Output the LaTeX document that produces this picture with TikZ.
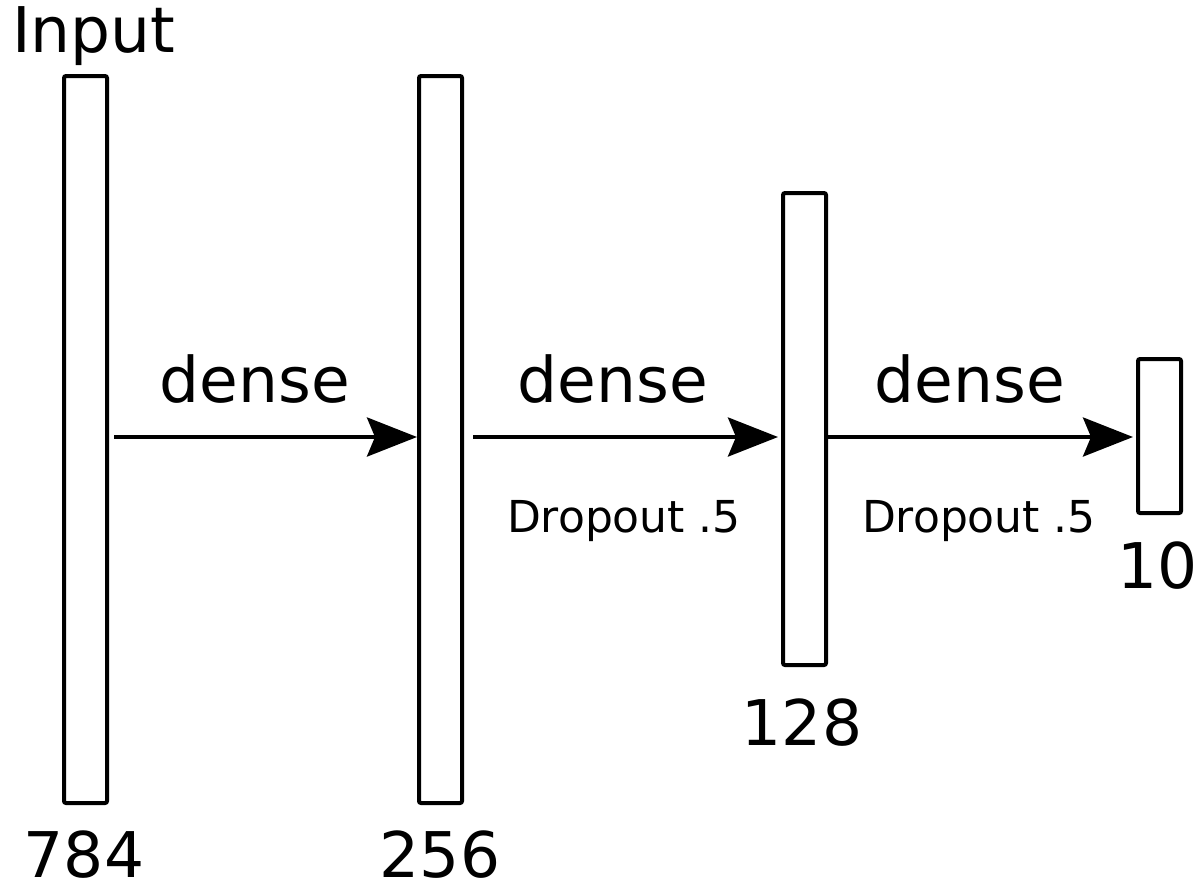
\documentclass[tikz,border=0pt]{standalone}
\usepackage{fontspec}
\setmainfont{DejaVu Sans}
\usetikzlibrary{arrows.meta,calc}
\begin{document}
\begin{tikzpicture}[x=1pt,y=-1pt,
  layer/.style={draw,line width=4pt,rounded corners=2pt,minimum width=43pt,inner sep=0pt,fill=white},
  arr/.style={line width=4pt,-{Stealth[length=50pt,width=39pt,inset=8pt]}},
  big/.style={font=\fontsize{63}{70}\selectfont,inner sep=0pt,anchor=base},
  small/.style={font=\fontsize{44}{50}\selectfont,inner sep=0pt,anchor=base}]
\useasboundingbox (0,0) rectangle (1202,887);
\node[layer,minimum height=727pt] (r1) at (85.5,439.5) {};
\node[layer,minimum height=727pt] (r2) at (440.5,439.5) {};
\node[layer,minimum height=472pt] (r3) at (804.5,429) {};
\node[layer,minimum height=154pt] (r4) at (1159.5,436) {};
\node[big,anchor=base west] (lin) at (12,52) {Input};
\node[big] (l784) at (84,877) {784};
\node[big] (l256) at (440,877) {256};
\node[big] (l128) at (802,745) {128};
\node[big] (l10) at (1158,588) {10};
\node[big] (d1) at (255,402) {dense};
\node[big] (d2) at (613,402) {dense};
\node[big] (d3) at (970,402) {dense};
\node[small] (p1) at (624,532) {Dropout .5};
\node[small] (p2) at (979,532) {Dropout .5};
\draw[arr] ($(r1.east)+(5,-2.5)$) -- ($(r2.west)+(0,-2.5)$);
\draw[arr] ($(r2.east)+(9,-2.5)$) -- ($(r3.west)+(-3,8)$);
\draw[arr] ($(r3.east)+(0,8)$) -- ($(r4.west)+(-3,1)$);
\end{tikzpicture}
\end{document}
